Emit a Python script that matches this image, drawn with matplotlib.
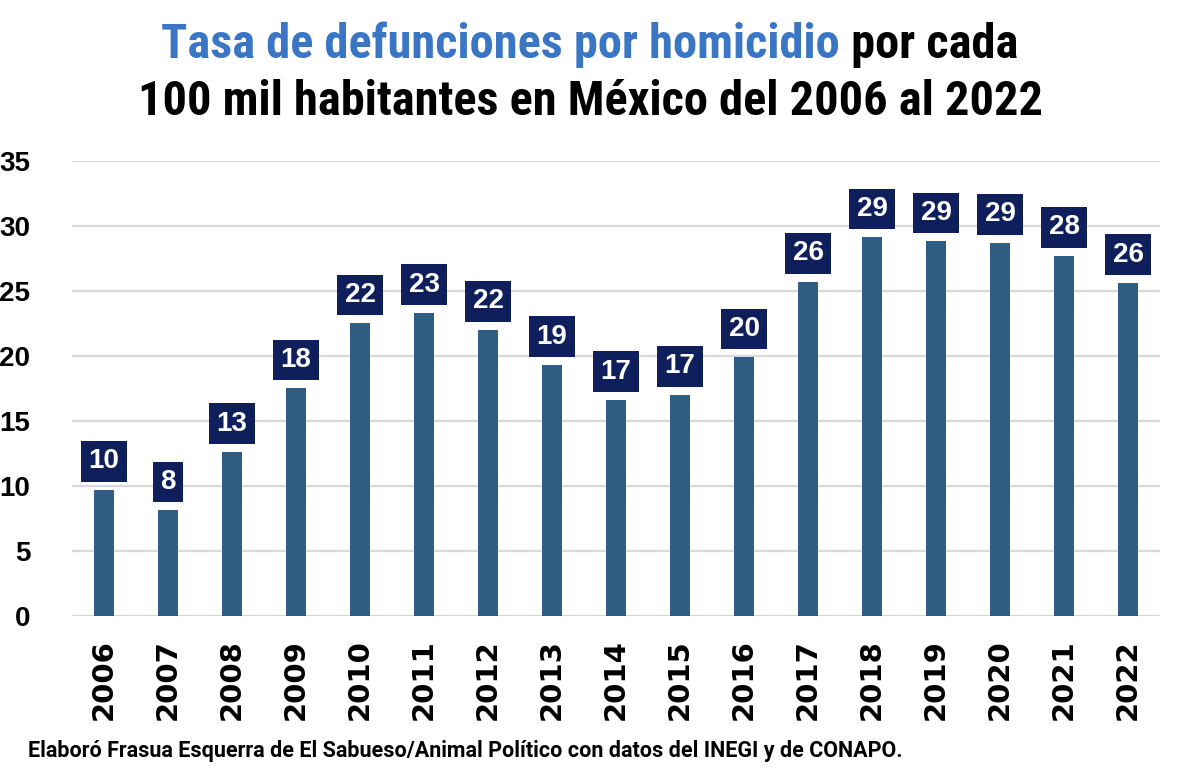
import matplotlib
matplotlib.use("Agg")
import matplotlib.pyplot as plt
from matplotlib import font_manager

years = ["2006", "2007", "2008", "2009", "2010", "2011", "2012", "2013", "2014",
         "2015", "2016", "2017", "2018", "2019", "2020", "2021", "2022"]
rates = [9.7, 8.1, 12.6, 17.5, 22.5, 23.3, 22.0, 19.3, 16.6,
         17.0, 19.9, 25.7, 29.1, 28.8, 28.7, 27.7, 25.6]
yticks = [0, 5, 10, 15, 20, 25, 30, 35]

title_blue = "Tasa de defunciones por homicidio"
title_black = " por cada"
title_line2 = "100 mil habitantes en México del 2006 al 2022"
footer = "Elaboró Frasua Esquerra de El Sabueso/Animal Político con datos del INEGI y de CONAPO."

BAR = "#2f5d84"
BOX = "#0f1f5c"
BLUE = "#3a76c4"
GRID = "#d9d9d9"

installed = {f.name for f in font_manager.fontManager.ttflist}
narrow = [f for f in ["Roboto Condensed", "Liberation Sans Narrow"] if f in installed]
NARROW = narrow + ["DejaVu Sans"]
ROBOTO = ["Roboto", "DejaVu Sans"]
ARIAL = ["Liberation Sans", "DejaVu Sans"]

fig = plt.figure(figsize=(11.8, 7.78), dpi=100)
ax = fig.add_axes([72 / 1180, 1 - 615.7 / 778, 1088 / 1180, 455 / 778])

x = list(range(len(years)))
ax.bar(x, rates, width=0.31, color=BAR, zorder=3)
ax.set_xlim(-0.5, len(years) - 0.5)
ax.set_ylim(0, 35)
ax.set_yticks(yticks)
ax.set_yticklabels([str(t) for t in yticks], fontsize=20, fontweight="bold", family=ARIAL)
ax.set_xticks(x)
ax.set_xticklabels(years, rotation=90, fontsize=21, fontweight="bold", family=["DejaVu Sans"])
ax.tick_params(axis="y", length=0, pad=30)
ax.tick_params(axis="x", length=0, pad=17)
ax.grid(axis="y", color=GRID, linewidth=1.6, zorder=0)
for s in ax.spines.values():
    s.set_visible(False)

for xi, v in zip(x, rates):
    ax.annotate(f"{v:.0f}", (xi, v), xytext=(0, 11), textcoords="offset points",
                ha="center", va="bottom", color="white", fontsize=20,
                fontweight="bold", family=ARIAL, zorder=4,
                bbox=dict(boxstyle="square,pad=0.26", fc=BOX, ec="none"))

# title: two colours on line 1, centred as one piece
tsize = 34.8
fig.canvas.draw()
r = fig.canvas.get_renderer()
t1 = fig.text(0, 0, title_blue, fontsize=tsize, fontweight="bold", family=NARROW)
t2 = fig.text(0, 0, title_black, fontsize=tsize, fontweight="bold", family=NARROW)
w1 = t1.get_window_extent(r).width / 1180
w2 = t2.get_window_extent(r).width / 1180
x0 = 0.5 - (w1 + w2) / 2
y1 = 1 - 58 / 778
t1.set_position((x0, y1)); t1.set_va("baseline"); t1.set_color(BLUE)
t2.set_position((x0 + w1, y1)); t2.set_va("baseline"); t2.set_color("black")
fig.text(0.5, 1 - 115 / 778, title_line2, ha="center", va="baseline",
         fontsize=tsize, fontweight="bold", family=NARROW)

fig.text(28 / 1180, 1 - 756.5 / 778, footer, ha="left", va="baseline",
         fontsize=15.5, fontweight="bold", family=ROBOTO)

fig.savefig("out.png", dpi=100)
